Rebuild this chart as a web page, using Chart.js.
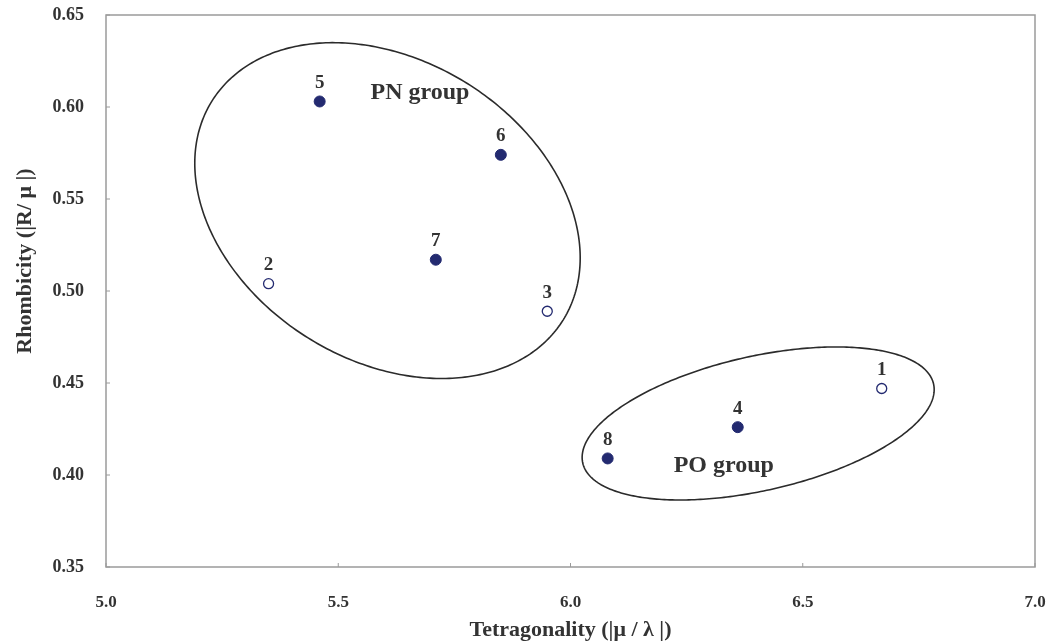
<!DOCTYPE html>
<html>
<head>
<meta charset="utf-8">
<script src="https://cdn.jsdelivr.net/npm/chart.js@4.4.1/dist/chart.umd.min.js"></script>
<style>
    html, body { margin: 0; padding: 0; background: #fff; }
    #wrap { width: 1051px; height: 644px; }
</style>
</head>
<body>
<div id="wrap"><canvas id="scatterChart"></canvas></div>
<script>
// sample numbers and their coordinates
const filledIds = ['4', '5', '6', '7', '8'];
const filledTetra = [6.36, 5.46, 5.85, 5.71, 6.08];
const filledRhomb = [0.426, 0.603, 0.574, 0.517, 0.409];

const openIds = ['1', '2', '3'];
const openTetra = [6.67, 5.35, 5.95];
const openRhomb = [0.447, 0.504, 0.489];

const xTicks = [5.0, 5.5, 6.0, 6.5, 7.0];
const yTicks = [0.35, 0.40, 0.45, 0.50, 0.55, 0.60, 0.65];

// group outlines: centre plus two half-axis vectors, all in axis units
const groups = [
    { name: 'PN group', centre: [5.606, 0.5437], u: [0.378, -0.0595], v: [-0.171, -0.0692], label: [5.676, 0.6075] },
    { name: 'PO group', centre: [6.404, 0.428], u: [0.3776, 0.0215], v: [0.0318, -0.0356], label: [6.33, 0.405] }
];

const yTitle = 'Rhombicity (|R/ μ |)';

const navy = '#232a70';
const textColor = '#333333';
const serif = "'Liberation Serif', 'Times New Roman', serif";

function toPoints(xs, ys) {
    return xs.map(function (x, i) { return { x: x, y: ys[i] }; });
}

var ctx = document.getElementById('scatterChart');

// frame, inside tick marks, group ellipses, point numbers and the y title
const decorations = {
    id: 'decorations',
    afterDatasetsDraw: function (chart) {
        var c = chart.ctx;
        var area = chart.chartArea;
        var xs = chart.scales.x, ys = chart.scales.y;
        c.save();

        c.strokeStyle = '#9a9a9a';
        c.lineWidth = 1.5;
        c.strokeRect(area.left, area.top, area.right - area.left, area.bottom - area.top);

        c.lineWidth = 1;
        xTicks.forEach(function (t) {
            var px = xs.getPixelForValue(t);
            c.beginPath();
            c.moveTo(px, area.bottom);
            c.lineTo(px, area.bottom - 4);
            c.stroke();
        });
        yTicks.forEach(function (t) {
            var py = ys.getPixelForValue(t);
            c.beginPath();
            c.moveTo(area.left, py);
            c.lineTo(area.left + 4, py);
            c.stroke();
        });

        c.strokeStyle = '#2b2b2b';
        c.lineWidth = 1.6;
        groups.forEach(function (g) {
            c.beginPath();
            for (var k = 0; k <= 360; k++) {
                var t = k * Math.PI / 180;
                var dx = g.centre[0] + g.u[0] * Math.cos(t) + g.v[0] * Math.sin(t);
                var dy = g.centre[1] + g.u[1] * Math.cos(t) + g.v[1] * Math.sin(t);
                var px = xs.getPixelForValue(dx), py = ys.getPixelForValue(dy);
                if (k === 0) c.moveTo(px, py); else c.lineTo(px, py);
            }
            c.closePath();
            c.stroke();

            c.fillStyle = textColor;
            c.font = 'bold 24px ' + serif;
            c.textAlign = 'center';
            c.textBaseline = 'middle';
            c.fillText(g.name, xs.getPixelForValue(g.label[0]), ys.getPixelForValue(g.label[1]));
        });

        c.font = 'bold 19px ' + serif;
        c.fillStyle = textColor;
        c.textAlign = 'center';
        c.textBaseline = 'bottom';
        chart.data.datasets.forEach(function (ds, i) {
            var meta = chart.getDatasetMeta(i);
            meta.data.forEach(function (pt, j) {
                c.fillText(ds.ids[j], pt.x, pt.y - 9);
            });
        });

        // y title sits a little above the middle of the axis
        c.translate(25, 261);
        c.rotate(-Math.PI / 2);
        c.font = 'bold 22px ' + serif;
        c.textBaseline = 'middle';
        c.fillText(yTitle, 0, 0);
        c.restore();
    }
};

new Chart(ctx, {
    type: 'scatter',
    data: {
        datasets: [{
            label: 'filled',
            ids: filledIds,
            data: toPoints(filledTetra, filledRhomb),
            backgroundColor: navy,
            borderColor: navy,
            borderWidth: 1,
            pointRadius: 5.5
        }, {
            label: 'open',
            ids: openIds,
            data: toPoints(openTetra, openRhomb),
            backgroundColor: '#ffffff',
            borderColor: navy,
            borderWidth: 1.3,
            pointRadius: 5
        }]
    },
    options: {
        responsive: true,
        maintainAspectRatio: false,
        animation: false,
        layout: {
            padding: { top: 15, right: 16, left: 0, bottom: 0 }
        },
        plugins: {
            legend: { display: false },
            tooltip: { enabled: false }
        },
        scales: {
            x: {
                type: 'linear',
                min: 5.0,
                max: 7.0,
                afterBuildTicks: function (axis) {
                    axis.ticks = xTicks.map(function (v) { return { value: v }; });
                },
                afterFit: function (axis) {
                    axis.height = 77;
                    axis.paddingLeft = 0;
                    axis.paddingRight = 0;
                },
                grid: { display: false, drawTicks: false },
                border: { display: false },
                ticks: {
                    padding: 25,
                    color: textColor,
                    font: { family: serif, size: 17, weight: 'bold' },
                    callback: function (v) { return v.toFixed(1); }
                },
                title: {
                    display: true,
                    text: 'Tetragonality (|μ / λ |)',
                    color: textColor,
                    font: { family: serif, size: 22, weight: 'bold' },
                    padding: { top: 0, bottom: 0 }
                }
            },
            y: {
                type: 'linear',
                min: 0.35,
                max: 0.65,
                afterBuildTicks: function (axis) {
                    axis.ticks = yTicks.map(function (v) { return { value: v }; });
                },
                afterFit: function (axis) {
                    axis.width = 106;
                    axis.paddingTop = 0;
                    axis.paddingBottom = 0;
                },
                grid: { display: false, drawTicks: false },
                border: { display: false },
                ticks: {
                    padding: 22,
                    color: textColor,
                    font: { family: serif, size: 18, weight: 'bold' },
                    callback: function (v) { return v.toFixed(2); }
                },
                title: { display: false }
            }
        }
    },
    plugins: [decorations]
});
</script>
</body>
</html>
